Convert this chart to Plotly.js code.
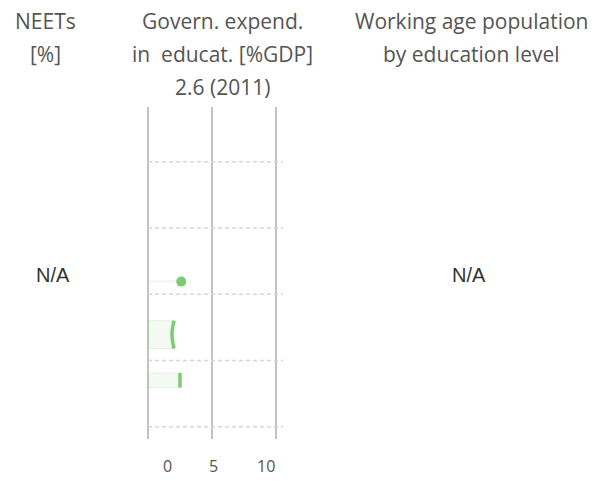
<!DOCTYPE html>
<html>
<head>
<meta charset="utf-8">
<script src="https://cdn.plot.ly/plotly-3.0.1.min.js"></script>
<style>html,body{margin:0;padding:0;background:#fff;}#chart{width:604px;height:481px;}</style>
</head>
<body>
<div id="chart"></div>
<script>
// ---- data ----
var headerNeets = ['NEETs', '[%]'];
var headerExpend = ['Govern. expend.', 'in  educat. [%GDP]', '2.6 (2011)'];
var headerPop = ['Working age population', 'by education level'];
var naText = 'N/A';
var xTickVals = [0, 5, 10];
var xTickText = ['0', '5', '10'];
var expendLatest = 2.6;            // dot row
var expendRowsValues = [2.0, 2.5]; // bar rows

// ---- layout constants (pixel mapping) ----
var W = 604, H = 481;
var green = '#7dcb74';
var rowDot = 2.31, rowBars = [3.11, 3.80], barWidths = [0.42, 0.22];
var yTop = 107, yBot = 439;

var traces = [];
traces.push({type:'scatter', mode:'lines', x:[0, expendLatest], y:[rowDot, rowDot],
  line:{color:'rgba(125,203,116,0.13)', width:2}, hoverinfo:'skip', showlegend:false});
traces.push({type:'scatter', mode:'markers', x:[expendLatest], y:[rowDot],
  marker:{color:green, size:10}, showlegend:false});
traces.push({type:'bar', orientation:'h', x:expendRowsValues, y:rowBars, width:barWidths, base:0,
  marker:{color:'rgba(125,203,116,0.1)', line:{color:'rgba(125,203,116,0.18)', width:1}}, showlegend:false});
var v0 = expendRowsValues[0], hh0 = barWidths[0]/2;
traces.push({type:'scatter', mode:'lines', x:[v0+0.03, v0-0.13, v0+0.03], y:[rowBars[0]-hh0, rowBars[0], rowBars[0]+hh0],
  line:{color:green, width:3.5, shape:'spline'}, showlegend:false});
var v1 = expendRowsValues[1], hh1 = barWidths[1]/2;
traces.push({type:'scatter', mode:'lines', x:[v1, v1], y:[rowBars[1]-hh1, rowBars[1]+hh1],
  line:{color:green, width:3.5}, showlegend:false});

var hdrFont = {family:'Open Sans, sans-serif', size:21, color:'#555'};
var ann = [];
function line(txt, xpx, ypx, font){
  ann.push({xref:'paper', yref:'paper', x:xpx/W, y:1-ypx/H, text:txt, showarrow:false,
    xanchor:'center', yanchor:'middle', font:font});
}
var lineY = [21, 54, 87];
headerNeets.forEach(function(t,i){ line(t, 45, lineY[i], hdrFont); });
headerExpend.forEach(function(t,i){ line(t, 222, lineY[i], hdrFont); });
headerPop.forEach(function(t,i){ line(t, 471, lineY[i], hdrFont); });
var naFont = {family:'Liberation Sans, Arial, sans-serif', size:20, color:'#333'};
line(naText, 53, 275, naFont);
line(naText, 469, 275, naFont);
var tickLabelX = [1.56, 5.08, 9.22];
xTickText.forEach(function(t,i){
  ann.push({xref:'x', yref:'paper', x:tickLabelX[i], y:1-466/H, text:t, showarrow:false,
    xanchor:'center', yanchor:'middle', font:{family:'Open Sans, sans-serif', size:16, color:'#555'}});
});

var shapes = xTickVals.map(function(v){
  return {type:'line', xref:'x', yref:'paper', x0:v, x1:v, y0:1-yBot/H, y1:1-yTop/H,
    line:{color:'#c2c2c2', width:2}, layer:'below'};
});

var layout = {
  width:W, height:H, margin:{l:0,r:0,t:0,b:0},
  paper_bgcolor:'#fff', plot_bgcolor:'rgba(0,0,0,0)', showlegend:false,
  xaxis:{domain:[140/W, 283/W], range:[-8/12.8, 135/12.8], showticklabels:false,
    showgrid:false, zeroline:false, showline:false, fixedrange:true},
  yaxis:{domain:[1-yBot/H, 1-yTop/H], range:[4.686, -0.326], tickvals:[0.5,1.5,2.5,3.5,4.5],
    showticklabels:false, showgrid:false, zeroline:false, showline:false, fixedrange:true},
  shapes:shapes.concat([0.5,1.5,2.5,3.5,4.5].map(function(r){
    return {type:'line', xref:'x', yref:'y', x0:0, x1:135/12.8, y0:r, y1:r,
      line:{color:'#d6d6d6', width:1.5, dash:'4px,3px'}, layer:'below'};
  })),
  annotations:ann
};
Plotly.newPlot('chart', traces, layout, {displayModeBar:false, staticPlot:true});
</script>
</body>
</html>
